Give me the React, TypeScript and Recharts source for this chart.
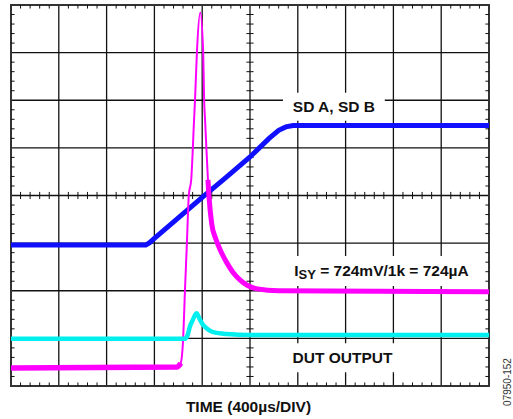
import {
  LineChart,
  Line,
  XAxis,
  YAxis,
  CartesianGrid,
  ReferenceArea,
  ReferenceLine,
} from 'recharts';

// scope screen: 10 horizontal divisions, 8 vertical divisions
const xDivs = [0, 1, 2, 3, 4, 5, 6, 7, 8, 9, 10];
const yDivs = [0, 1, 2, 3, 4, 5, 6, 7, 8];

// SD A, SD B trace (divisions)
const blueX = [0, 2.82, 2.9, 3.0, 3.5, 4.0, 4.5, 5.0, 5.4, 5.6, 5.75, 5.9, 10];
const blueY = [2.96, 2.96, 3.01, 3.1, 3.53, 3.96, 4.38, 4.81, 5.2, 5.37, 5.44, 5.47, 5.47];

// supply current trace
const magentaX = [0, 3.48, 3.55, 3.6, 3.64, 3.68, 3.72, 3.77, 3.83, 3.85, 3.89, 3.96, 4.02, 4.04, 4.06, 4.12, 4.14, 4.2, 4.28, 4.38, 4.52, 4.65, 4.79, 4.95, 5.15, 5.6, 10];
const magentaY = [0.38, 0.4, 0.48, 0.97, 2.02, 3.0, 4.01, 4.33, 5.59, 6.01, 7.02, 7.84, 7.02, 6.01, 5.59, 4.33, 4.01, 3.4, 3.1, 2.85, 2.58, 2.38, 2.23, 2.11, 2.04, 2.0, 1.98];

// DUT output trace
const cyanX = [0, 3.64, 3.7, 3.74, 3.8, 3.88, 3.95, 4.02, 4.12, 4.23, 4.52, 5.0, 6.0, 10];
const cyanY = [0.99, 0.99, 1.08, 1.24, 1.38, 1.53, 1.4, 1.28, 1.19, 1.13, 1.09, 1.07, 1.07, 1.07];

const toPoints = (xs: number[], ys: number[]) => xs.map((x, i) => ({ x, y: ys[i] }));

const blueData = toPoints(blueX, blueY);
const magentaData = toPoints(magentaX, magentaY);
const magentaBand = magentaData.filter((p) => p.x <= 3.55);
const magentaTail = magentaData.filter((p) => p.x >= 4.12);
const cyanData = toPoints(cyanX, cyanY);

const FONT = '"Liberation Sans", Arial, sans-serif';
const TICK = 0.075;

// minor ticks every 1/5 division
const minorX: number[] = [];
for (let i = 1; i < 50; i++) if (i % 5 !== 0) minorX.push(i / 5);
const minorY: number[] = [];
for (let i = 1; i < 40; i++) if (i % 5 !== 0) minorY.push(i / 5);

const boxLabel = (text: React.ReactNode) => (props: any) => {
  const vb = props.viewBox || {};
  const cx = vb.x + vb.width / 2;
  const cy = vb.y + vb.height / 2;
  return (
    <text x={cx} y={cy + 5.5} textAnchor="middle" fontFamily={FONT} fontWeight="bold" fontSize={15.5} fill="#111">
      {text}
    </text>
  );
};

const isyText = (
  <>
    <tspan>I</tspan>
    <tspan fontSize={13} dy={3}>SY</tspan>
    <tspan dy={-3}> = 724mV/1k = 724µA</tspan>
  </>
);

const App = () => {
  return (
    <div style={{ position: 'absolute', left: 0, top: 0, width: 513, height: 419, background: '#fff' }}>
      <LineChart width={513} height={419} margin={{ top: 5, right: 24, bottom: 33, left: 11 }}>
        <XAxis type="number" dataKey="x" domain={[0, 10]} ticks={xDivs} hide allowDataOverflow />
        <YAxis type="number" dataKey="y" domain={[0, 8]} ticks={yDivs} hide allowDataOverflow />
        <CartesianGrid stroke="#111" strokeWidth={1.3} />

        {minorX.map((x) => (
          <ReferenceLine key={`tb${x}`} segment={[{ x, y: 8 }, { x, y: 8 - TICK }]} stroke="#111" strokeWidth={1} />
        ))}
        {minorX.map((x) => (
          <ReferenceLine key={`bb${x}`} segment={[{ x, y: 0 }, { x, y: TICK }]} stroke="#111" strokeWidth={1} />
        ))}
        {minorX.map((x) => (
          <ReferenceLine key={`cx${x}`} segment={[{ x, y: 4 - TICK }, { x, y: 4 + TICK }]} stroke="#111" strokeWidth={1} />
        ))}
        {minorY.map((y) => (
          <ReferenceLine key={`lb${y}`} segment={[{ x: 0, y }, { x: TICK, y }]} stroke="#111" strokeWidth={1} />
        ))}
        {minorY.map((y) => (
          <ReferenceLine key={`rb${y}`} segment={[{ x: 10, y }, { x: 10 - TICK, y }]} stroke="#111" strokeWidth={1} />
        ))}
        {minorY.map((y) => (
          <ReferenceLine key={`cy${y}`} segment={[{ x: 5 - TICK, y }, { x: 5 + TICK, y }]} stroke="#111" strokeWidth={1} />
        ))}

        <ReferenceArea x1={0} x2={10} y1={0} y2={8} fill="none" stroke="#333" strokeWidth={2} />

        <ReferenceArea x1={5.69} x2={7.82} y1={5.57} y2={6.16} fill="#fff" fillOpacity={1} stroke="none" label={boxLabel('SD A, SD B')} />
        <ReferenceArea x1={5.77} x2={9.73} y1={2.1} y2={2.73} fill="#fff" fillOpacity={1} stroke="none" label={boxLabel(isyText)} />
        <ReferenceArea x1={5.73} x2={8.14} y1={0.29} y2={0.9} fill="#fff" fillOpacity={1} stroke="none" label={boxLabel('DUT OUTPUT')} />

        <Line data={blueData} dataKey="y" type="linear" stroke="#1010ff" strokeWidth={5} dot={false} isAnimationActive={false} />
        <Line data={magentaData} dataKey="y" type="monotone" stroke="#ff00ff" strokeWidth={2} dot={false} isAnimationActive={false} />
        <Line data={magentaBand} dataKey="y" type="monotone" stroke="#ff00ff" strokeWidth={5.5} dot={false} isAnimationActive={false} />
        <Line data={magentaTail} dataKey="y" type="monotone" stroke="#ff00ff" strokeWidth={5} dot={false} isAnimationActive={false} />
        <Line data={cyanData} dataKey="y" type="monotone" stroke="#00f0f0" strokeWidth={4.5} dot={false} isAnimationActive={false} />
      </LineChart>

      <svg width={513} height={419} style={{ position: 'absolute', left: 0, top: 0, pointerEvents: 'none' }}>
        <text x={248.5} y={411.5} textAnchor="middle" fontFamily={FONT} fontWeight="bold" fontSize={15.5} fill="#111">
          TIME (400µs/DIV)
        </text>
        <text
          x={0}
          y={0}
          transform="translate(511, 382) rotate(-90)"
          textAnchor="middle"
          fontFamily={FONT}
          fontSize={10}
          fill="#333"
        >
          07950-152
        </text>
      </svg>
    </div>
  );
};

export default App;
